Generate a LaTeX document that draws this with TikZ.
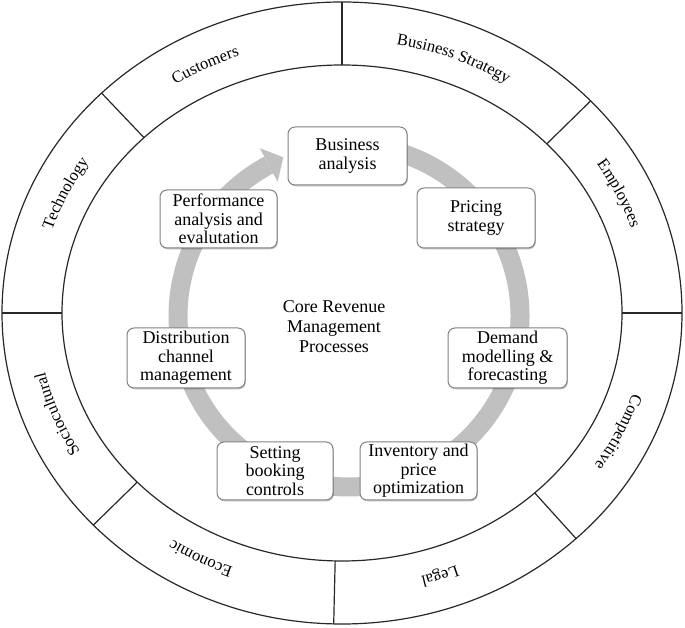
\documentclass[tikz,border=0pt]{standalone}
\usepackage{fontspec}
\setmainfont{Liberation Serif}
\usetikzlibrary{decorations.text,shadows,calc}
\definecolor{bandgray}{RGB}{192,192,192}
\definecolor{linegray}{RGB}{40,40,40}
\definecolor{boxedge}{RGB}{130,130,130}
\newcommand{\ringfont}{\fontsize{16.5}{16.5}\selectfont}
\newcommand{\boxfont}{\fontsize{18}{18.5}\selectfont}
\newcommand{\corefont}{\fontsize{18}{20}\selectfont}
\begin{document}
\begin{tikzpicture}[x=1pt,y=1pt,
  ringline/.style={draw=linegray, line width=1.2pt},
  procbox/.style={draw=boxedge, line width=1pt, fill=white, rounded corners=7pt,
    minimum width=118pt, minimum height=58pt, align=center, font=\boxfont, inner sep=1pt,
    drop shadow={shadow xshift=0.8pt, shadow yshift=-1.3pt, fill=black, opacity=0.25}},
  ringlabel/.style={decorate, decoration={text along path, text align=center}},
  band/.style={draw=bandgray, line width=19pt}
]
\useasboundingbox (0,0) rectangle (685,628);
\coordinate (E) at (342,315);
\coordinate (R) at (349,312);

% ring
\draw[ringline] (E) ellipse [x radius=340pt, y radius=311pt];
\draw[ringline] (E) ellipse [x radius=280pt, y radius=248pt];
\foreach \a [count=\i] in {90,135,180,223,268.6,313.5,0,43} {
  \coordinate (in\i) at ($(E)+(\a:280pt and 248pt)$);
  \coordinate (out\i) at ($(E)+(\a:340pt and 311pt)$);
  \draw[ringline] (in\i) -- (out\i);
}

% ring labels (clockwise, tops outward)
\path[ringlabel, decoration={text={|\ringfont|Customers}}]
  ($(E)+(147:304pt and 273pt)$) arc[start angle=147, end angle=87, x radius=304pt, y radius=273pt];
\path[ringlabel, decoration={text={|\ringfont|Business Strategy}}]
  ($(E)+(98:304pt and 273pt)$) arc[start angle=98, end angle=38, x radius=304pt, y radius=273pt];
\path[ringlabel, decoration={text={|\ringfont|Employees}}]
  ($(E)+(55:304pt and 273pt)$) arc[start angle=55, end angle=-5, x radius=304pt, y radius=273pt];
\path[ringlabel, decoration={text={|\ringfont|Competitive}}]
  ($(E)+(5:304pt and 273pt)$) arc[start angle=5, end angle=-55, x radius=304pt, y radius=273pt];
\path[ringlabel, decoration={text={|\ringfont|Legal}}]
  ($(E)+(-41:304pt and 273pt)$) arc[start angle=-41, end angle=-101, x radius=304pt, y radius=273pt];
\path[ringlabel, decoration={text={|\ringfont|Economic}}]
  ($(E)+(272:304pt and 273pt)$) arc[start angle=272, end angle=212, x radius=304pt, y radius=273pt];
\path[ringlabel, decoration={text={|\ringfont|Sociocultural}}]
  ($(E)+(231:304pt and 273pt)$) arc[start angle=231, end angle=171, x radius=304pt, y radius=273pt];
\path[ringlabel, decoration={text={|\ringfont|Technology}}]
  ($(E)+(185:304pt and 273pt)$) arc[start angle=185, end angle=125, x radius=304pt, y radius=273pt];

% grey cycle arrow
\coordinate (tail) at ($(R)+(95:171pt)$);
\coordinate (head) at ($(R)+(118:171pt)$);
\coordinate (barbout) at ($(R)+(118:190pt)$);
\coordinate (barbin) at ($(R)+(118:152pt)$);
\coordinate (tip) at ($(head)+(28:16.5pt)$);
\draw[band] (tail) arc[start angle=95, end angle=-242, radius=171pt];
\fill[bandgray] (barbout) -- (tip) -- (barbin) -- cycle;

% process boxes
\node[procbox, minimum width=119pt] (ba) at (347.5,472) {Business\\analysis};
\node[procbox, minimum height=60pt] (ps) at (476,410) {Pricing\\strategy};
\node[procbox, minimum width=119pt, minimum height=60pt] (dm) at (507.5,270) {Demand\\modelling \&\\forecasting};
\node[procbox, minimum width=117pt] (ip) at (418.5,157) {Inventory and\\price\\optimization};
\node[procbox, minimum width=116pt] (sb) at (275,157) {Setting\\booking\\controls};
\node[procbox, minimum height=60pt] (dc) at (186,270) {Distribution\\channel\\management};
\node[procbox, minimum width=117pt] (pa) at (218.5,409) {Performance\\analysis and\\evalutation};

\node[align=center, font=\corefont] (core) at (334,301) {Core Revenue\\Management\\Processes};
\end{tikzpicture}
\end{document}
